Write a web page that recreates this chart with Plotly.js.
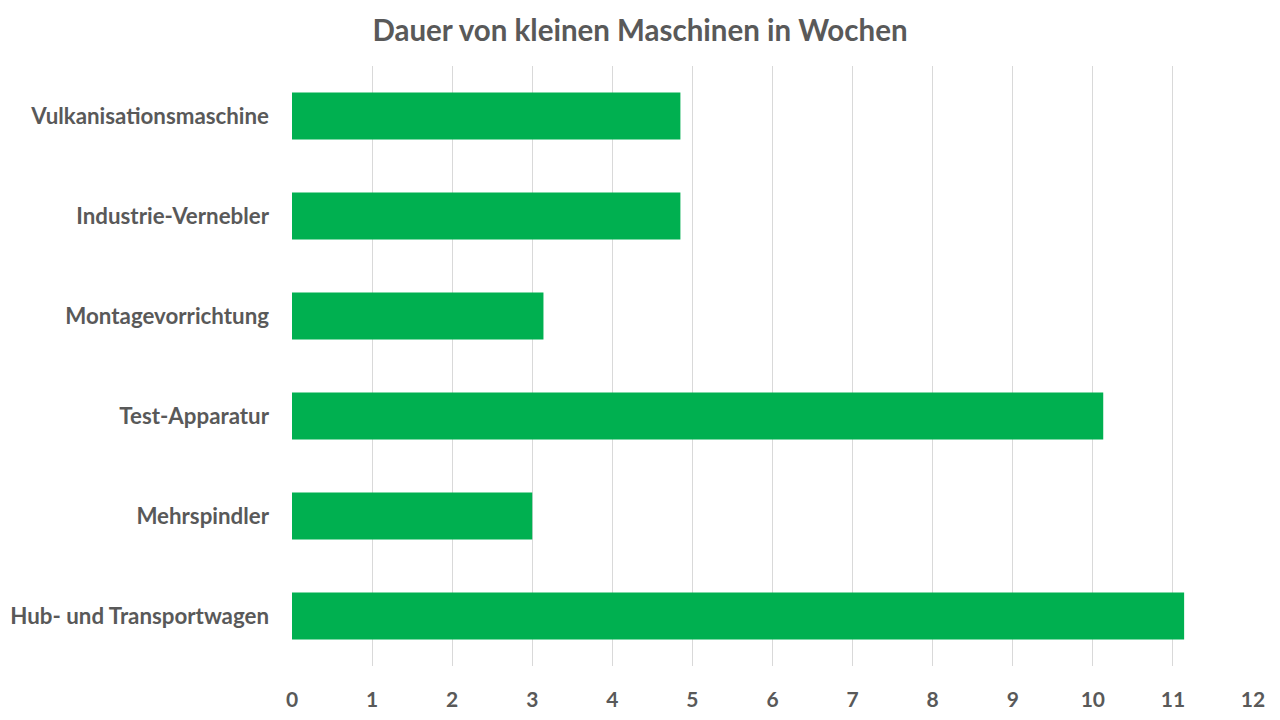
<!DOCTYPE html>
<html>
<head>
<meta charset="utf-8">
<script src="https://cdn.plot.ly/plotly-3.0.1.min.js"></script>
<style>html,body{margin:0;padding:0;background:#fff;}#chart{width:1280px;height:720px;}</style>
</head>
<body>
<div id="chart"></div>
<script>
const categories = ["Vulkanisationsmaschine", "Industrie-Vernebler", "Montagevorrichtung", "Test-Apparatur", "Mehrspindler", "Hub- und Transportwagen"];
const weeks = [4.85, 4.85, 3.14, 10.13, 3.0, 11.14];
const xTicks = [0,1,2,3,4,5,6,7,8,9,10,11,12];

const fontFam = "Lato, 'Open Sans', sans-serif";
Plotly.newPlot("chart", [{
  type: "bar",
  orientation: "h",
  y: categories,
  x: weeks,
  width: 0.47,
  marker: {color: "#00B050"},
  hoverinfo: "x+y"
}], {
  width: 1280, height: 720,
  margin: {l: 292, r: 27, t: 66, b: 54},
  paper_bgcolor: "#fff", plot_bgcolor: "#fff",
  title: {text: "<b>Dauer von kleinen Maschinen in Wochen</b>", x: 0.5, xanchor: "center", y: 0.958, yanchor: "middle",
          font: {family: fontFam, size: 29.5, color: "#595959"}},
  xaxis: {range: [0, 12], tickvals: xTicks, ticktext: xTicks.map(String), showgrid: true, gridcolor: "#d9d9d9", gridwidth: 1,
          zeroline: false, showline: false, ticks: "", ticklabelstandoff: 19,
          tickfont: {family: fontFam, size: 21, color: "#595959", weight: "bold"}},
  yaxis: {autorange: "reversed", showgrid: false, zeroline: false, showline: false, ticks: "", ticklabelstandoff: 22,
          tickfont: {family: fontFam, size: 22.3, color: "#595959", weight: "bold"}},
  bargap: 0.53,
  showlegend: false
}, {displayModeBar: false, staticPlot: true});
</script>
</body>
</html>
